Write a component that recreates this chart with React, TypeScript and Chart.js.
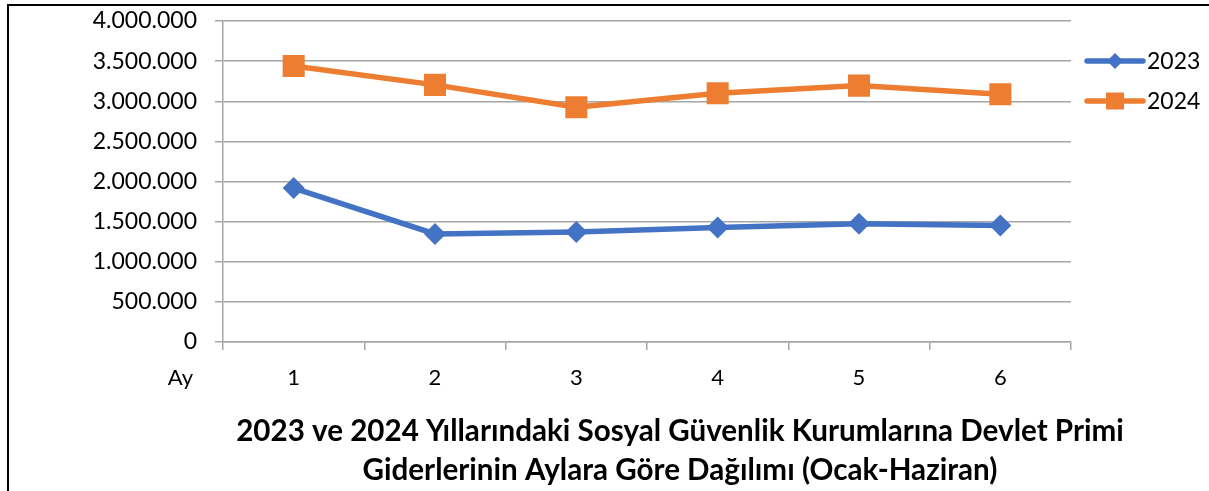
import React, { useEffect, useRef } from "react";
import { Chart, registerables } from "chart.js";

Chart.register(...registerables);

const months = ["1", "2", "3", "4", "5", "6"];
const values2023 = [1918000, 1346000, 1371000, 1428000, 1474000, 1453000];
const values2024 = [3440000, 3204000, 2926000, 3100000, 3195000, 3088000];
const seriesNames = ["2023", "2024"];
const axisCategoryLabel = "Ay";
const titleLines = [
  "2023 ve 2024 Yıllarındaki Sosyal Güvenlik Kurumlarına Devlet Primi",
  "Giderlerinin Aylara Göre Dağılımı (Ocak-Haziran)",
];

const BLUE = "#4472C4";
const ORANGE = "#ED7D31";
const GRID = "#a6a6a6";
const FONT = "Lato";

function fmt(v: number): string {
  return String(Math.round(v)).replace(/\B(?=(\d{3})+(?!\d))/g, ".");
}

const extrasPlugin = {
  id: "extras",
  afterDraw(chart: any) {
    const ctx = chart.ctx;
    const area = chart.chartArea;
    const xs = chart.scales.x;
    ctx.save();
    // "Ay" category axis caption
    ctx.font = `22px ${FONT}`;
    ctx.fillStyle = "#000";
    ctx.textAlign = "right";
    ctx.textBaseline = "middle";
    const ay = xs.top + 8 + 15 + (22 * 1.2) / 2;
    ctx.fillText(axisCategoryLabel, area.left - 30, ay);

    // Title, centred on the whole chart box
    ctx.font = `bold 29.6px ${FONT}`;
    ctx.textAlign = "center";
    ctx.textBaseline = "alphabetic";
    titleLines.forEach((line, i) => {
      ctx.fillText(line, chart.width / 2, xs.bottom + 49 + i * 39);
    });

    // Legend: line with marker
    chart.data.datasets.forEach((ds: any, i: number) => {
      const y = area.top + 40 + i * 40;
      const x0 = area.right + 16;
      const x1 = area.right + 72;
      ctx.strokeStyle = ds.borderColor;
      ctx.lineWidth = 5.5;
      ctx.lineCap = "round";
      ctx.beginPath();
      ctx.moveTo(x0, y);
      ctx.lineTo(x1, y);
      ctx.stroke();
      const cx = (x0 + x1) / 2;
      ctx.fillStyle = ds.backgroundColor;
      ctx.beginPath();
      if (ds.pointStyle === "rectRot") {
        const r = 8;
        ctx.moveTo(cx - r, y);
        ctx.lineTo(cx, y - r);
        ctx.lineTo(cx + r, y);
        ctx.lineTo(cx, y + r);
        ctx.closePath();
      } else {
        ctx.rect(cx - 9, y - 8.5, 18, 17);
      }
      ctx.fill();
      ctx.fillStyle = "#000";
      ctx.textAlign = "left";
      ctx.textBaseline = "middle";
      ctx.font = `23px ${FONT}`;
      ctx.fillText(ds.label, x1 + 4, y + 1);
    });
    ctx.restore();
  },
};

export default function App() {
  const ref = useRef<HTMLCanvasElement | null>(null);

  useEffect(() => {
    if (!ref.current) return;
    const chart = new Chart(ref.current, {
      type: "line",
      data: {
        labels: months,
        datasets: [
          {
            label: seriesNames[0],
            data: values2023,
            borderColor: BLUE,
            backgroundColor: BLUE,
            borderWidth: 5.5,
            pointStyle: "rectRot",
            pointRadius: 11,
            pointBorderWidth: 0,
            pointBackgroundColor: BLUE,
            tension: 0,
          },
          {
            label: seriesNames[1],
            data: values2024,
            borderColor: ORANGE,
            backgroundColor: ORANGE,
            borderWidth: 5.5,
            pointStyle: "rect",
            pointRadius: 15.6,
            pointBorderWidth: 0,
            pointBackgroundColor: ORANGE,
            tension: 0,
          },
        ],
      },
      options: {
        responsive: false,
        animation: false,
        devicePixelRatio: 1,
        events: [],
        layout: { padding: { left: 0, top: 21, right: 289, bottom: 99 } },
        plugins: {
          legend: { display: false },
          tooltip: { enabled: false },
          title: { display: false },
        },
        scales: {
          x: {
            type: "category",
            offset: true,
            afterFit: (s: any) => {
              s.height = 50;
            },
            grid: {
              display: true,
              drawOnChartArea: false,
              drawTicks: true,
              tickLength: 8,
              offset: true,
              color: GRID,
              lineWidth: 1.5,
            },
            border: { display: true, color: GRID, width: 1.5 },
            ticks: {
              color: "#000",
              font: { family: FONT, size: 22 },
              padding: 15,
              maxRotation: 0,
            },
          },
          y: {
            min: 0,
            max: 4000000,
            afterFit: (s: any) => {
              s.width = 223;
              s.paddingTop = 0;
              s.paddingBottom = 0;
            },
            grid: {
              color: GRID,
              lineWidth: 1.5,
              drawTicks: true,
              tickLength: 8,
            },
            border: { display: true, color: GRID, width: 1.5 },
            ticks: {
              stepSize: 500000,
              color: "#000",
              font: { family: FONT, size: 23 },
              padding: 18,
              callback: (v: any) => fmt(Number(v)),
            },
          },
        },
      },
      plugins: [extrasPlugin],
    } as any);
    return () => chart.destroy();
  }, []);

  return (
    <div
      style={{
        position: "fixed",
        left: 0,
        top: 0,
        width: 1209,
        height: 491,
        overflow: "hidden",
        background: "#fff",
      }}
    >
      <canvas
        ref={ref}
        width={1360}
        height={491}
        style={{ position: "absolute", left: 0, top: 0, width: 1360, height: 491 }}
      />
      <div
        style={{
          position: "absolute",
          left: 7,
          top: 4,
          width: 1400,
          height: 600,
          border: "2px solid #000",
          boxSizing: "border-box",
          pointerEvents: "none",
        }}
      />
    </div>
  );
}
